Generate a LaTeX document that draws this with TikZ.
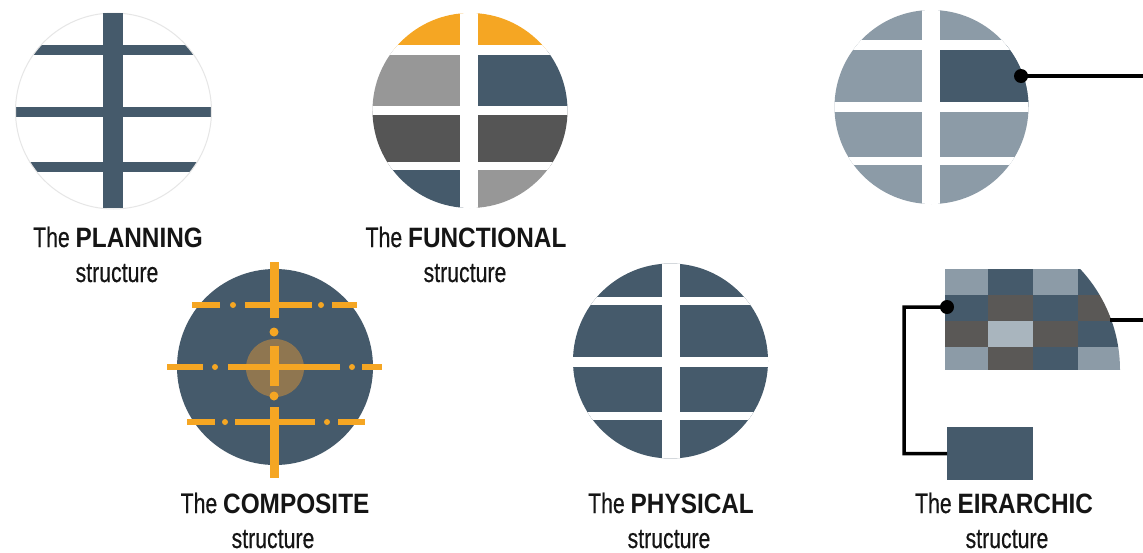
\documentclass[tikz,border=0pt]{standalone}
\usepackage{fontspec}
\newfontfamily\lblfont{Liberation Sans}[FakeStretch=0.76,UprightFeatures={FakeBold=0.4},BoldFeatures={FakeStretch=0.87}]
\definecolor{slate}{HTML}{455A6B}
\definecolor{lslate}{HTML}{8C9BA7}
\definecolor{vlslate}{HTML}{A9B5BE}
\definecolor{midgray}{HTML}{979797}
\definecolor{dkgray}{HTML}{555555}
\definecolor{brgray}{HTML}{5A5856}
\definecolor{orng}{HTML}{F5A623}
\definecolor{innerc}{HTML}{8F7650}
\definecolor{txt}{HTML}{151515}
\definecolor{ring}{HTML}{E6E6E6}
\begin{document}
\begin{tikzpicture}[x=1pt,y=-1pt,
  lbl/.style={anchor=base, font=\lblfont\fontsize{28}{32}\selectfont, text=txt, inner sep=0pt},
  wire/.style={line width=3.5pt, draw=black},
  hbar/.style={draw=orng, line width=6pt},
  vbar/.style={draw=orng, line width=9pt},
  gap/.style={fill=white}]
\useasboundingbox (0,0) rectangle (1143,552);
\fill[white] (0,0) rectangle (1143,552);

% ---------- PLANNING ----------
\begin{scope}
  \clip (113.5,111) circle (98pt);
  \fill[slate] (10,45) rectangle (220,55);
  \fill[slate] (10,107) rectangle (220,117);
  \fill[slate] (10,162) rectangle (220,172);
\end{scope}
\draw[ring, line width=1pt] (113.5,111) circle (98pt);
\fill[slate] (103,13) rectangle (123,208);
\node[lbl] (planA) at (118,247) {The \textbf{PLANNING}};
\node[lbl] (planB) at (117,282) {structure};

% ---------- FUNCTIONAL ----------
\begin{scope}
  \clip (470,110.5) circle (97.5pt);
  \fill[orng]    (360,0)   rectangle (469,50);
  \fill[orng]    (469,0)   rectangle (580,50);
  \fill[midgray] (360,50)  rectangle (469,110.5);
  \fill[slate]   (469,50)  rectangle (580,110.5);
  \fill[dkgray]  (360,110.5) rectangle (469,166);
  \fill[dkgray]  (469,110.5) rectangle (580,166);
  \fill[slate]   (360,166) rectangle (469,220);
  \fill[midgray] (469,166) rectangle (580,220);
  \fill[gap] (460,0) rectangle (478,220);
  \fill[gap] (360,45) rectangle (580,55);
  \fill[gap] (360,106) rectangle (580,115);
  \fill[gap] (360,162) rectangle (580,170);
\end{scope}
\node[lbl] (funcA) at (466,247) {The \textbf{FUNCTIONAL}};
\node[lbl] (funcB) at (465,282) {structure};

% ---------- TOP RIGHT ----------
\begin{scope}
  \clip (931.5,107) circle (97pt);
  \fill[lslate] (830,0) rectangle (1035,220);
  \fill[slate] (931,45) rectangle (1035,107);
  \fill[gap] (922,0) rectangle (940,220);
  \fill[gap] (830,40) rectangle (1035,50);
  \fill[gap] (830,102) rectangle (1035,112);
  \fill[gap] (830,157) rectangle (1035,165);
\end{scope}
\coordinate (tdot) at (1021,76);
\coordinate (tout) at (1143,76);
\draw[wire] (tdot) -- (tout);
\fill[black] (tdot) circle (7pt);

% ---------- COMPOSITE ----------
\fill[slate] (275,367) circle (98pt);
\fill[innerc] (275,368) circle (29pt);
% horizontal dash-dot lines
\draw[hbar] (192,305) -- (220,305);
\fill[orng] (233,305) circle (3pt);
\draw[hbar] (245,305) -- (312,305);
\fill[orng] (321,305) circle (3pt);
\draw[hbar] (332,305) -- (357,305);
\draw[hbar] (167,367) -- (203,367);
\fill[orng] (215,367) circle (3pt);
\draw[hbar] (228,367) -- (340,367);
\fill[orng] (352,367) circle (3pt);
\draw[hbar] (362,367) -- (382,367);
\draw[hbar] (187,422) -- (215,422);
\fill[orng] (225,422) circle (3pt);
\draw[hbar] (235,422) -- (315,422);
\fill[orng] (327,422) circle (3pt);
\draw[hbar] (338,422) -- (365,422);
% vertical dash-dot line
\draw[vbar] (274,262) -- (274,318);
\fill[orng] (274,332) circle (4.5pt);
\draw[vbar] (274,346) -- (274,386);
\fill[orng] (274,396) circle (4.5pt);
\draw[vbar] (274,407) -- (274,478);
\node[lbl] (compA) at (275,513) {The \textbf{COMPOSITE}};
\node[lbl] (compB) at (273,548) {structure};

% ---------- PHYSICAL ----------
\begin{scope}
  \clip (670.5,361) circle (97.5pt);
  \fill[slate] (560,250) rectangle (780,470);
  \fill[gap] (662,250) rectangle (680,470);
  \fill[gap] (560,297) rectangle (780,305);
  \fill[gap] (560,357) rectangle (780,367);
  \fill[gap] (560,412) rectangle (780,420);
\end{scope}
\node[lbl] (physA) at (671,513) {The \textbf{PHYSICAL}};
\node[lbl] (physB) at (669,548) {structure};

% ---------- EIRARCHIC ----------
\begin{scope}
  \clip (945,269) rectangle (1135,370);
  \clip (972,370) circle (148pt);
  % row 1
  \fill[lslate] (945,269) rectangle (988,295);
  \fill[slate]  (988,269) rectangle (1033,295);
  \fill[lslate] (1033,269) rectangle (1078,295);
  \fill[slate]  (1078,269) rectangle (1135,295);
  % row 2
  \fill[slate]  (945,295) rectangle (988,321);
  \fill[brgray] (988,295) rectangle (1033,321);
  \fill[slate]  (1033,295) rectangle (1078,321);
  \fill[brgray] (1078,295) rectangle (1135,321);
  % row 3
  \fill[brgray] (945,321) rectangle (988,347);
  \fill[vlslate] (988,321) rectangle (1033,347);
  \fill[brgray] (1033,321) rectangle (1078,347);
  \fill[slate]  (1078,321) rectangle (1135,347);
  % row 4
  \fill[lslate] (945,347) rectangle (988,370);
  \fill[brgray] (988,347) rectangle (1033,370);
  \fill[slate]  (1033,347) rectangle (1078,370);
  \fill[lslate] (1078,347) rectangle (1135,370);
\end{scope}
\node[fill=slate, minimum width=86pt, minimum height=53pt, inner sep=0pt, anchor=north west] (erect) at (947,427) {};
\coordinate (edot) at (947,307);
\coordinate (ebend) at (904,453.5);
\draw[wire] (edot) -| (ebend) -- (erect.west);
\fill[black] (edot) circle (7pt);
\coordinate (earc) at (1110,320);
\coordinate (eout) at (1143,320);
\draw[wire] (earc) -- (eout);
\node[lbl] (eirA) at (1004,513) {The \textbf{EIRARCHIC}};
\node[lbl] (eirB) at (1007,548) {structure};
\end{tikzpicture}
\end{document}
